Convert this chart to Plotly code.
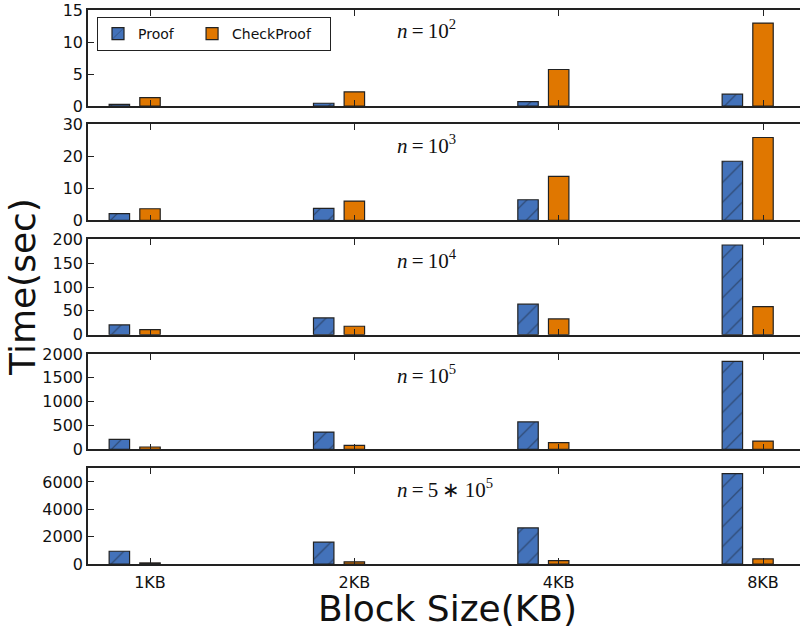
import plotly.graph_objects as go
from plotly.subplots import make_subplots

# ---------------- data ----------------
categories = ["1KB", "2KB", "4KB", "8KB"]
series_names = ["Proof", "CheckProof"]
panel_labels = [
    "<i>n</i>\u2009=\u200910<sup>2</sup>",
    "<i>n</i>\u2009=\u200910<sup>3</sup>",
    "<i>n</i>\u2009=\u200910<sup>4</sup>",
    "<i>n</i>\u2009=\u200910<sup>5</sup>",
    "<i>n</i>\u2009=\u20095\u2009\u2217\u200910<sup>5</sup>",
]
proof_n1e2 = [0.25, 0.43, 0.68, 1.85]
check_n1e2 = [1.3, 2.2, 5.7, 12.95]
proof_n1e3 = [2.1, 3.7, 6.4, 18.4]
check_n1e3 = [3.6, 6.0, 13.7, 25.8]
proof_n1e4 = [20.4, 35.2, 64, 188]
check_n1e4 = [10.5, 17.7, 33, 59]
proof_n1e5 = [208, 361, 575, 1846]
check_n1e5 = [48, 83, 138, 173]
proof_n5e5 = [933, 1600, 2637, 6615]
check_n5e5 = [80, 160, 245, 370]
y_max = [15, 30, 200, 2000, 7000]
y_dtick = [5, 10, 50, 500, 2000]

proof_series = [proof_n1e2, proof_n1e3, proof_n1e4, proof_n1e5, proof_n5e5]
check_series = [check_n1e2, check_n1e3, check_n1e4, check_n1e5, check_n5e5]

# ---------------- layout geometry ----------------
W, H = 800, 631
L, R, T, B = 88, 0, 10, 67
plot_w = W - L - R
plot_h = H - T - B


def ypaper(py):
    return (H - B - py) / plot_h


def xpaper(px):
    return (px - L) / plot_w


panel_px = [(10, 106), (124, 220.3), (239.3, 334.7), (354, 449.3), (468.3, 564)]

BLUE = "#4372BA"
ORANGE = "#E07700"
LINE = "#222222"
FONT = "DejaVu Sans"
PAD = "\u00a0" * 3

fig = make_subplots(rows=5, cols=1)
xs = list(range(len(categories)))

for i in range(5):
    fig.add_trace(
        go.Bar(
            x=xs, y=proof_series[i], name=series_names[0] + PAD, offset=-0.2, width=0.1,
            marker=dict(color=BLUE, line=dict(color=LINE, width=1.2),
                        pattern=dict(shape="/", fgcolor="#111111", size=14, solidity=0.08)),
            showlegend=(i == 0), legendgroup="proof",
        ),
        row=i + 1, col=1,
    )
    fig.add_trace(
        go.Bar(
            x=xs, y=check_series[i], name=series_names[1] + PAD, offset=-0.05, width=0.1,
            marker=dict(color=ORANGE, line=dict(color=LINE, width=1.2)),
            showlegend=(i == 0), legendgroup="check",
        ),
        row=i + 1, col=1,
    )
    top, bot = panel_px[i]
    fig.update_yaxes(
        domain=[max(0, ypaper(bot)), min(1, ypaper(top))],
        range=[0, y_max[i]], dtick=y_dtick[i], tick0=0,
        ticks="inside", ticklen=6, tickcolor=LINE, tickwidth=1,
        showline=True, linecolor=LINE, linewidth=1.5, mirror=False,
        showgrid=False, zeroline=False,
        tickfont=dict(family=FONT, size=16, color="#111111"),
        row=i + 1, col=1,
    )
    fig.update_xaxes(
        range=[-0.3035, 3.181], tickvals=xs, ticktext=categories,
        ticks="inside", ticklen=6, tickcolor=LINE, tickwidth=1,
        showline=True, linecolor=LINE, linewidth=1.5, mirror="ticks",
        showgrid=False, zeroline=False, showticklabels=(i == 4),
        ticklabelstandoff=3,
        tickfont=dict(family=FONT, size=16, color="#111111"),
        row=i + 1, col=1,
    )
    fig.add_annotation(
        text=panel_labels[i], xref="paper", yref="paper",
        x=xpaper(395), y=ypaper(top + 20), xanchor="left", yanchor="middle",
        showarrow=False, font=dict(family="Liberation Serif", size=21, color="#111111"),
    )

fig.add_annotation(
    text="Block Size(KB)", xref="paper", yref="paper",
    x=xpaper(447), y=ypaper(608), xanchor="center", yanchor="middle",
    showarrow=False, font=dict(family=FONT, size=36, color="#111111"),
)
fig.add_annotation(
    text="Time(sec)", xref="paper", yref="paper", textangle=-90,
    x=xpaper(22), y=ypaper(287), xanchor="center", yanchor="middle",
    showarrow=False, font=dict(family=FONT, size=36, color="#111111"),
)

fig.update_layout(
    width=W, height=H,
    margin=dict(l=L, r=R, t=T, b=B),
    paper_bgcolor="white", plot_bgcolor="white",
    barmode="group",
    legend=dict(
        orientation="h", x=xpaper(97), y=ypaper(17), xanchor="left", yanchor="top",
        bordercolor=LINE, borderwidth=1, bgcolor="white",
        font=dict(family=FONT, size=14, color="#111111"),
        traceorder="normal", tracegroupgap=0,
    ),
)

fig.write_html(
    "out.html",
    config={"displayModeBar": False},
    post_script="document.body.style.margin='0px';",
)
